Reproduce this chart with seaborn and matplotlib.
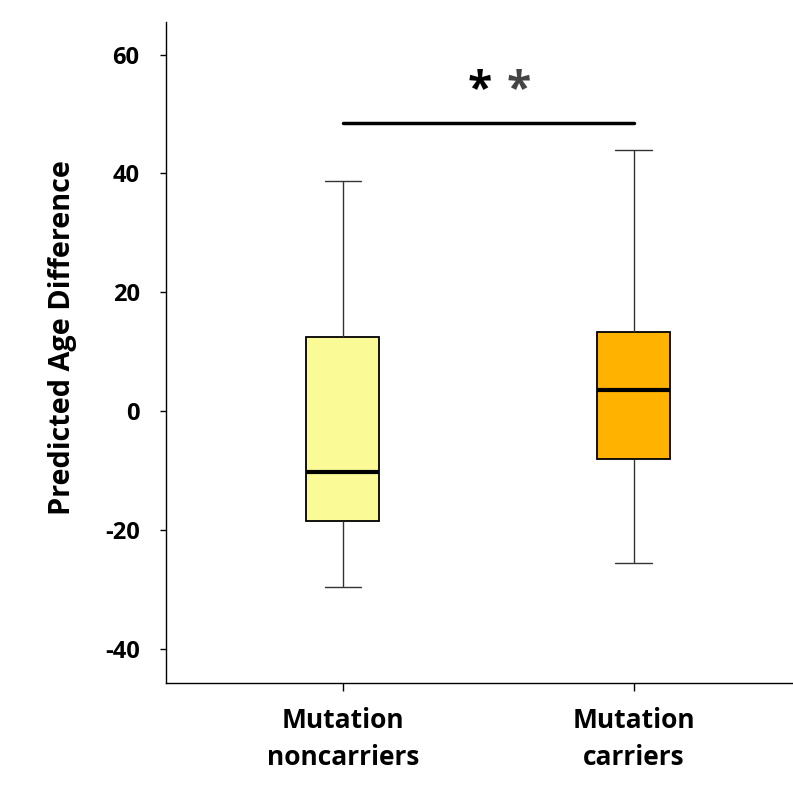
import numpy as np
import pandas as pd
import seaborn as sns
import matplotlib.pyplot as plt

# five-number summaries (min, q1, median, q3, max)
groups = ["Mutation\nnoncarriers", "Mutation\ncarriers"]
noncarriers = [-29.6, -18.5, -10.2, 12.5, 38.8]
carriers = [-25.6, -8.0, 3.5, 13.3, 43.9]
box_colors = ["#FAFA96", "#FFB300"]
y_ticks = [-40, -20, 0, 20, 40, 60]
sig_y = 48.5
sig_text = "*"

df = pd.DataFrame({
    "group": [groups[0]] * len(noncarriers) + [groups[1]] * len(carriers),
    "value": noncarriers + carriers,
})

sns.set_theme(style="ticks")
plt.rcParams["font.family"] = ["Open Sans", "DejaVu Sans"]
plt.rcParams["font.weight"] = "bold"
plt.rcParams["axes.unicode_minus"] = False
plt.rcParams["text.color"] = "black"
plt.rcParams["axes.labelcolor"] = "black"
plt.rcParams["xtick.color"] = "black"
plt.rcParams["ytick.color"] = "black"

fig = plt.figure(figsize=(7.93, 8.01), dpi=100)
ax = fig.add_axes([0.2093, 0.1473, 0.79, 0.8252])

sns.boxplot(data=df, x="group", y="value", hue="group", palette=box_colors,
            order=groups, width=0.25, whis=(0, 100), saturation=1, legend=False,
            linecolor="black", linewidth=1.3, ax=ax,
            medianprops={"linewidth": 3, "color": "black"},
            whiskerprops={"linewidth": 1, "color": "#333333"},
            capprops={"linewidth": 1, "color": "#333333"})

ax.set_xlim(-0.608, 1.546)
ax.set_ylim(-45.8, 65.5)
ax.set_yticks(y_ticks)
ax.set_xlabel("")
ax.set_ylabel("Predicted Age Difference", fontsize=20.8, fontweight="bold")
ax.yaxis.set_label_coords(-0.142, 0.523)
ax.tick_params(axis="y", labelsize=17, length=4, width=1, pad=15)
ax.tick_params(axis="x", labelsize=19, length=6, width=1, pad=11)
for lab in ax.get_xticklabels() + ax.get_yticklabels():
    lab.set_fontweight("bold")
    lab.set_linespacing(1.5)
sns.despine(ax=ax)
for s in ["left", "bottom"]:
    ax.spines[s].set_linewidth(1)
    ax.spines[s].set_color("black")

# significance bar
ax.plot([0, 1], [sig_y, sig_y], color="black", lw=2.5)
ax.text(0.47, sig_y + 5.5, sig_text, ha="center", va="center", fontsize=32, color="black")
ax.text(0.605, sig_y + 5.5, sig_text, ha="center", va="center", fontsize=32, color="#444444")

fig.savefig("out.png", dpi=100)
